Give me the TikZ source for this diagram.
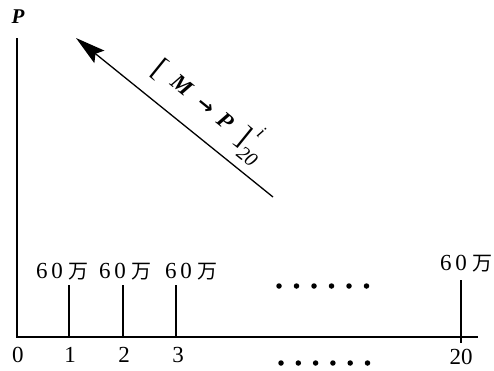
\documentclass[tikz,border=0pt]{standalone}
\usepackage{fontspec}
\setmainfont{Liberation Serif}
\newfontfamily\cjk{Noto Sans CJK SC}
\newfontfamily\dvs{DejaVu Sans}
\usetikzlibrary{arrows.meta}
\begin{document}
\begin{tikzpicture}[x=1pt,y=-1pt,
  axis/.style={line width=2.2pt},
  bar/.style={line width=1.6pt},
  money/.style={font=\fontsize{23}{24}\selectfont, inner sep=0pt},
  num/.style={font=\fontsize{23}{24}\selectfont, inner sep=0pt},
  dotm/.style={circle, fill=black, inner sep=0pt, minimum size=5.5pt}]
\useasboundingbox (0,0) rectangle (494,370);
\coordinate (O) at (17,337);
\coordinate (Ytop) at (17,38);
\coordinate (Xend) at (478,337);
\draw[axis] (Ytop) -- (O) -- (Xend);
\node[inner sep=0pt, font=\fontsize{21}{22}\selectfont] (P) at (18,17) {\textbf{\textit{P}}};
% bars
\foreach \n/\x in {1/69,2/123,3/176}{
  \coordinate (bt\n) at (\x,285);
  \coordinate (bb\n) at (\x,337);
  \draw[bar] (bt\n) -- (bb\n);
}
\coordinate (bt20) at (461,280);
\coordinate (bb20) at (461,343);
\draw[bar] (bt20) -- (bb20);
% money labels
\newcommand{\sixty}{6\hspace{4pt}0\hspace{5pt}{\cjk\fontsize{20}{21}\selectfont 万}}
\node[money] (m1) at (62,272) {\sixty};
\node[money] (m2) at (125,272) {\sixty};
\node[money] (m3) at (191,272) {\sixty};
\node[money] (m20) at (466,264) {\sixty};
% axis numbers
\node[num] (n0) at (18,355) {0};
\node[num] (n1) at (70,355) {1};
\node[num] (n2) at (124,355) {2};
\node[num] (n3) at (178,355) {3};
\node[num] (n20) at (461,357) {20};
% dots
\foreach \k in {0,...,5}{
  \node[dotm] (du\k) at ({279+17.5*\k},286) {};
  \node[dotm] (dl\k) at ({281+17.3*\k},363) {};
}
% arrow
\coordinate (As) at (273,197);
\coordinate (Ae) at (76,38);
\draw[line width=1.3pt, -{Stealth[length=30pt,width=16pt,inset=5pt]}] (As) -- (Ae);
\node[rotate=-39, inner sep=0pt, font=\fontsize{23}{24}\selectfont] (lab) at (210,109)
  {\raisebox{-3pt}{\fontsize{30}{30}\selectfont[}\hspace{12pt}\textbf{\textit{M}}\hspace{12pt}{\dvs\bfseries\fontsize{20}{20}\selectfont →}\hspace{10pt}\textbf{\textit{P}}\hspace{12pt}\raisebox{-3pt}{\fontsize{30}{30}\selectfont]}\rlap{\raisebox{15pt}{\fontsize{18}{18}\selectfont\itshape\,i}}\raisebox{-14pt}{\fontsize{20}{20}\selectfont\itshape 20}};
\end{tikzpicture}
\end{document}
